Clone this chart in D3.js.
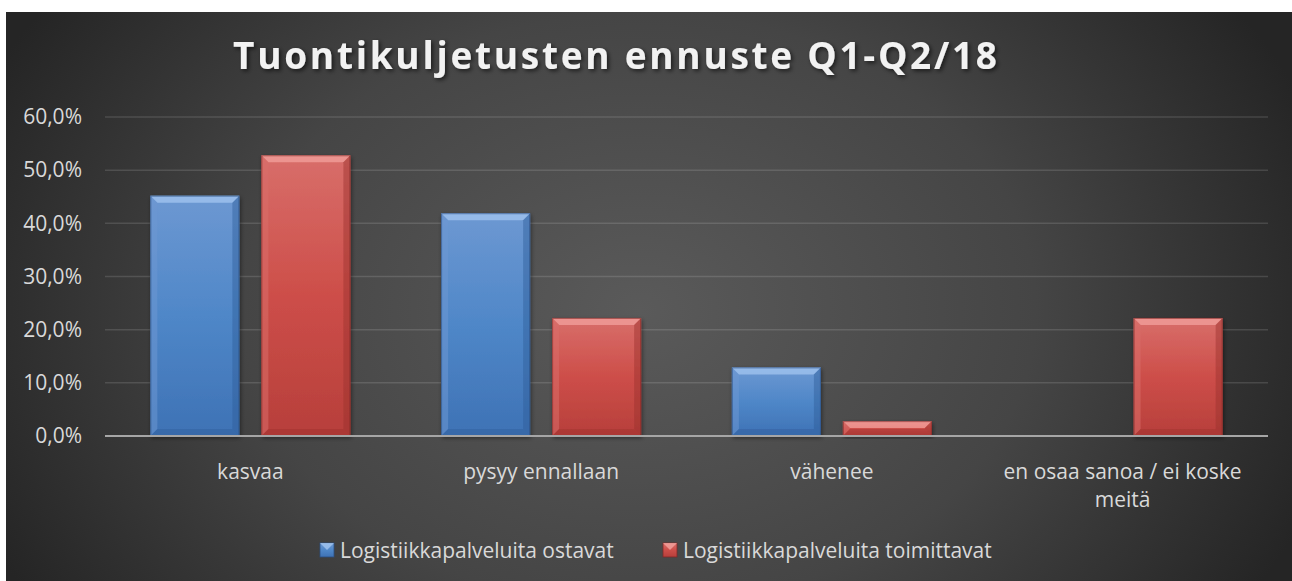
<!DOCTYPE html>
<html>
<head>
<meta charset="utf-8">
<script src="https://cdn.jsdelivr.net/npm/d3@7"></script>
<style>
  body { margin: 0; background: #ffffff; }
  svg { display: block; }
</style>
</head>
<body>
<div id="viz"></div>
<script>
// chart data
var categories = ["kasvaa", "pysyy ennallaan", "vähenee", "en osaa sanoa / ei koske meitä"];
var seriesNames = ["Logistiikkapalveluita ostavat", "Logistiikkapalveluita toimittavat"];
var ostavat = [0.452, 0.419, 0.129, 0.0];
var toimittavat = [0.528, 0.222, 0.028, 0.222];
var yTicks = [0, 0.1, 0.2, 0.3, 0.4, 0.5, 0.6];
var titleText = "Tuontikuljetusten ennuste Q1-Q2/18";

var seriesValues = [ostavat, toimittavat];
var colors = [
  {top: "#6d98d2", mid: "#4f87c8", bot: "#3e72b5", light: "#a3c5f0", dark: "#2f5d99", edge: "#2c4f80"},
  {top: "#d86e6a", mid: "#cd4e49", bot: "#b73f3b", light: "#f3a29e", dark: "#9a302d", edge: "#7e2a28"}
];

const W = 1292, H = 581;
const panel = {x: 6, y: 12, w: 1286, h: 569};
const plot = {left: 105, right: 1268, top: 117, bottom: 436};
const labelFont = "'Open Sans', sans-serif";

const svg = d3.select("#viz").append("svg")
    .attr("width", W)
    .attr("height", H);

const defs = svg.append("defs");

// background gradient
const bg = defs.append("radialGradient")
    .attr("id", "bg")
    .attr("gradientUnits", "userSpaceOnUse")
    .attr("cx", 640).attr("cy", 310).attr("r", 720)
    .attr("gradientTransform", "translate(640,310) scale(1,0.75) translate(-640,-310)");
bg.append("stop").attr("offset", "0").attr("stop-color", "#5a5a5a");
bg.append("stop").attr("offset", "0.55").attr("stop-color", "#454545");
bg.append("stop").attr("offset", "1").attr("stop-color", "#252525");

colors.forEach(function(c, i) {
  const g = defs.append("linearGradient")
      .attr("id", "bar" + i)
      .attr("x1", 0).attr("y1", 0).attr("x2", 0).attr("y2", 1);
  g.append("stop").attr("offset", "0").attr("stop-color", c.top);
  g.append("stop").attr("offset", "0.5").attr("stop-color", c.mid);
  g.append("stop").attr("offset", "1").attr("stop-color", c.bot);
});

const shadow = defs.append("filter").attr("id", "shadow")
    .attr("x", "-10%").attr("y", "-10%").attr("width", "120%").attr("height", "130%");
shadow.append("feDropShadow")
    .attr("dx", 1).attr("dy", 2).attr("stdDeviation", 2)
    .attr("flood-color", "#000").attr("flood-opacity", 0.45);

const tshadow = defs.append("filter").attr("id", "tshadow")
    .attr("x", "-5%").attr("y", "-20%").attr("width", "110%").attr("height", "150%");
tshadow.append("feDropShadow")
    .attr("dx", 2).attr("dy", 2).attr("stdDeviation", 2)
    .attr("flood-color", "#000").attr("flood-opacity", 0.6);

svg.append("rect")
    .attr("x", panel.x).attr("y", panel.y)
    .attr("width", panel.w).attr("height", panel.h)
    .attr("fill", "url(#bg)");

// title
svg.append("text")
    .attr("x", 615)
    .attr("y", 69)
    .attr("text-anchor", "middle")
    .attr("font-family", labelFont)
    .attr("font-weight", "bold")
    .attr("font-size", 37)
    .attr("fill", "#f2f2f2")
    .attr("textLength", 764)
    .attr("lengthAdjust", "spacing")
    .attr("filter", "url(#tshadow)")
    .text(titleText);

// scales
const x = d3.scaleBand()
    .domain(categories)
    .range([plot.left, plot.right])
    .paddingInner(0.312)
    .paddingOuter(0.156);

const xs = d3.scaleBand()
    .domain(d3.range(seriesNames.length))
    .range([0, x.bandwidth()])
    .paddingInner(0.198);

const y = d3.scaleLinear()
    .domain([0, 0.6])
    .range([plot.bottom, plot.top]);

const fmt = function(v) { return d3.format(".1f")(v * 100).replace(".", ",") + "%"; };

// gridlines
svg.append("g")
  .selectAll("line")
  .data(yTicks.filter(function(d) { return d > 0; }))
  .join("line")
    .attr("x1", plot.left).attr("x2", plot.right)
    .attr("y1", function(d) { return y(d); })
    .attr("y2", function(d) { return y(d); })
    .attr("stroke", "#ffffff")
    .attr("stroke-opacity", 0.13)
    .attr("stroke-width", 1.5);

// y axis labels
const yAxis = svg.append("g")
    .attr("transform", `translate(${plot.left},0)`)
    .call(d3.axisLeft(y).tickValues(yTicks).tickFormat(fmt).tickSize(0).tickPadding(23));
yAxis.select(".domain").remove();
yAxis.selectAll("text")
    .attr("font-family", labelFont)
    .attr("font-size", 21)
    .attr("fill", "#d9d9d9");

// bars
const bars = [];
categories.forEach(function(cat, ci) {
  seriesValues.forEach(function(vals, si) {
    bars.push({cat: cat, s: si, v: vals[ci]});
  });
});

const barG = svg.append("g")
  .selectAll("g")
  .data(bars.filter(function(d) { return d.v > 0; }))
  .join("g")
    .attr("filter", "url(#shadow)");

barG.each(function(d) {
  const g = d3.select(this);
  const bx = x(d.cat) + xs(d.s), bw = xs.bandwidth();
  const by = y(d.v), bh = y(0) - y(d.v);
  const c = colors[d.s];
  const b = Math.min(7, bh / 2);
  g.append("rect")
      .attr("x", bx).attr("y", by).attr("width", bw).attr("height", bh)
      .attr("fill", "url(#bar" + d.s + ")");
  // bevel edges
  g.append("polygon")
      .attr("points", [[bx, by], [bx + bw, by], [bx + bw - b, by + b], [bx + b, by + b]].join(" "))
      .attr("fill", c.light).attr("opacity", 0.75);
  g.append("polygon")
      .attr("points", [[bx, by], [bx + b, by + b], [bx + b, by + bh - b], [bx, by + bh]].join(" "))
      .attr("fill", c.top).attr("opacity", 0.55);
  g.append("polygon")
      .attr("points", [[bx + bw, by], [bx + bw - b, by + b], [bx + bw - b, by + bh - b], [bx + bw, by + bh]].join(" "))
      .attr("fill", c.dark).attr("opacity", 0.45);
  g.append("polygon")
      .attr("points", [[bx, by + bh], [bx + b, by + bh - b], [bx + bw - b, by + bh - b], [bx + bw, by + bh]].join(" "))
      .attr("fill", c.dark).attr("opacity", 0.4);
  g.append("rect")
      .attr("x", bx + 0.5).attr("y", by + 0.5).attr("width", bw - 1).attr("height", bh - 1)
      .attr("fill", "none").attr("stroke", c.edge).attr("stroke-opacity", 0.6);
});

// x axis line
svg.append("line")
    .attr("x1", plot.left).attr("x2", plot.right)
    .attr("y1", y(0)).attr("y2", y(0))
    .attr("stroke", "#a6a6a6")
    .attr("stroke-width", 2);

// x labels (wrap long one)
const xl = svg.append("g")
  .selectAll("text")
  .data(categories)
  .join("text")
    .attr("x", function(d) { return x(d) + x.bandwidth() / 2; })
    .attr("y", 479)
    .attr("text-anchor", "middle")
    .attr("font-family", labelFont)
    .attr("font-size", 21)
    .attr("fill", "#d9d9d9");
xl.each(function(d) {
  const t = d3.select(this);
  const lines = d.length > 20 ? ["en osaa sanoa / ei koske", "meitä"] : [d];
  lines.forEach(function(l, i) {
    t.append("tspan")
        .attr("x", x(d) + x.bandwidth() / 2)
        .attr("dy", i === 0 ? 0 : 28)
        .text(l);
  });
});

// legend
const legendX = [320, 663];
const legend = svg.append("g")
  .selectAll("g")
  .data(seriesNames)
  .join("g")
    .attr("transform", function(d, i) { return `translate(${legendX[i]},543)`; });
legend.append("rect")
    .attr("width", 14).attr("height", 14)
    .attr("fill", function(d, i) { return "url(#bar" + i + ")"; })
    .attr("stroke", function(d, i) { return colors[i].edge; })
    .attr("stroke-width", 0.8);
legend.append("polygon")
    .attr("points", "0,0 14,0 7,7")
    .attr("fill", function(d, i) { return colors[i].light; })
    .attr("opacity", 0.8);
legend.append("text")
    .attr("x", 20)
    .attr("y", 15)
    .attr("font-family", labelFont)
    .attr("font-size", 21)
    .attr("fill", "#d9d9d9")
    .text(function(d) { return d; });
</script>
</body>
</html>
